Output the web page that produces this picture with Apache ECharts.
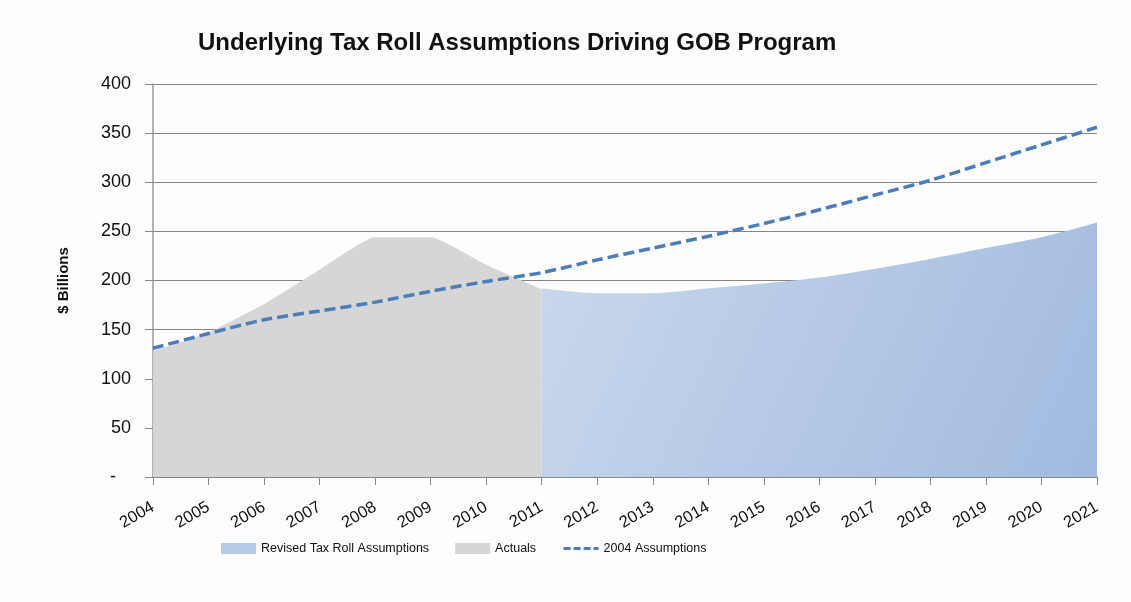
<!DOCTYPE html>
<html>
<head>
<meta charset="utf-8">
<title>Underlying Tax Roll Assumptions Driving GOB Program</title>
<script src="https://cdn.jsdelivr.net/npm/echarts@6/dist/echarts.min.js"></script>
<style>
  html, body { margin: 0; padding: 0; background: #fdfdfd; }
  #chart { width: 1131px; height: 602px; }
</style>
</head>
<body>
<div id="chart"></div>
<script>
const years = ['2004', '2005', '2006', '2007', '2008', '2009', '2010', '2011', '2012',
  '2013', '2014', '2015', '2016', '2017', '2018', '2019', '2020', '2021'];

// $ billions
const actuals = [128, 147, 176, 211, 244, 244, 216, 191,
  null, null, null, null, null, null, null, null, null, null];
const revised = [null, null, null, null, null, null, null,
  192, 187, 187, 192, 197, 203, 212, 222, 233, 244, 259];
const assumptions2004 = [131, 146, 160, 169, 178, 189, 199, 208, 221, 233,
  245, 258, 272, 287, 302, 320, 338, 356];

const FONT = '"Liberation Sans", Arial, sans-serif';

const chart = echarts.init(document.getElementById('chart'));

const blueFill = new echarts.graphic.LinearGradient(0, 0, 1, 1, [
  { offset: 0, color: '#c9d8ec' },
  { offset: 1, color: '#a1badf' }
]);

chart.setOption({
  backgroundColor: '#fdfdfd',
  animation: false,
  title: {
    text: 'Underlying Tax Roll Assumptions Driving GOB Program',
    left: 193,
    top: 26,
    textStyle: { fontFamily: FONT, fontSize: 24, fontWeight: 'bold', color: '#111' }
  },
  legend: {
    top: 537,
    left: 216,
    itemWidth: 35,
    itemHeight: 11,
    itemGap: 26,
    textStyle: { fontFamily: FONT, fontSize: 12.5, color: '#111' },
    data: [
      { name: 'Revised Tax Roll Assumptions', icon: 'rect' },
      { name: 'Actuals', icon: 'rect' },
      {
        name: '2004 Assumptions',
        itemStyle: { opacity: 0 },
        lineStyle: { type: [7, 3], width: 3 }
      }
    ]
  },
  grid: { left: 153, right: 34, top: 84, bottom: 125 },
  xAxis: {
    type: 'category',
    data: years,
    boundaryGap: false,
    axisLine: { lineStyle: { color: '#888', width: 1.5 } },
    axisTick: { show: true, length: 8, lineStyle: { color: '#888' } },
    axisLabel: {
      rotate: 30,
      margin: 29,
      fontFamily: FONT,
      fontSize: 16.5,
      color: '#111'
    }
  },
  yAxis: {
    type: 'value',
    min: 0,
    max: 400,
    interval: 50,
    name: '$ Billions',
    nameLocation: 'middle',
    nameGap: 82,
    nameRotate: 90,
    nameTextStyle: { fontFamily: FONT, fontSize: 15, fontWeight: 'bold', color: '#111' },
    axisLine: { show: true, lineStyle: { color: '#999', width: 1.5 } },
    axisTick: { show: true, length: 8, lineStyle: { color: '#888' } },
    axisLabel: {
      margin: 22,
      fontFamily: FONT,
      fontSize: 18,
      color: '#111',
      formatter: v => (v === 0 ? '-   ' : String(v))
    },
    splitLine: { lineStyle: { color: '#8c8282', width: 1 } }
  },
  series: [
    {
      name: 'Revised Tax Roll Assumptions',
      type: 'line',
      data: revised,
      smooth: 0.3,
      showSymbol: false,
      lineStyle: { width: 0 },
      itemStyle: { color: '#b6cbe6' },
      areaStyle: { color: blueFill, opacity: 1 },
      z: 2
    },
    {
      name: 'Actuals',
      type: 'line',
      data: actuals,
      smooth: 0.15,
      showSymbol: false,
      lineStyle: { width: 0 },
      itemStyle: { color: '#d6d6d6' },
      areaStyle: { color: '#d6d6d6', opacity: 1 },
      z: 3
    },
    {
      name: '2004 Assumptions',
      type: 'line',
      data: assumptions2004,
      smooth: 0.3,
      showSymbol: false,
      symbol: 'none',
      itemStyle: { color: '#4a7dba' },
      lineStyle: { color: '#4a7dba', width: 3.5, type: [11, 5] },
      z: 4
    }
  ]
});
</script>
</body>
</html>
